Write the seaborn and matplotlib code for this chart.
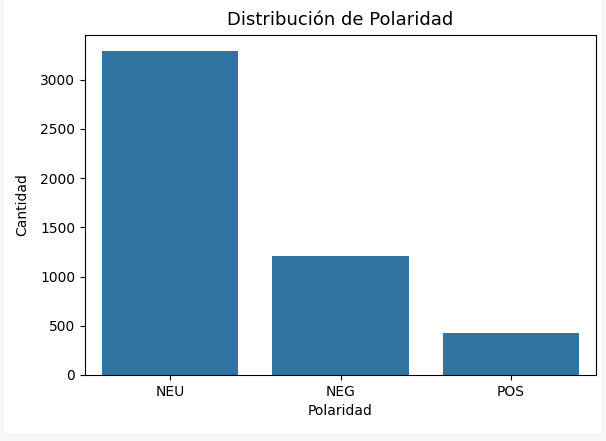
import matplotlib
matplotlib.use("Agg")
import matplotlib.pyplot as plt
import seaborn as sns
import pandas as pd
from matplotlib.patches import Rectangle

categories = ["NEU", "NEG", "POS"]
counts = [3289, 1212, 429]

df = pd.DataFrame({"Polaridad": categories, "Cantidad": counts})

fig = plt.figure(figsize=(6.06, 4.41), dpi=100, facecolor="#f7f7f7")
fig.patches.append(Rectangle((4/606, 8/441), (601-4)/606, 1 - 8/441,
                             transform=fig.transFigure, facecolor="white",
                             edgecolor="none", zorder=-10))
ax = fig.add_axes([85/606, (441-375)/441, (596-85)/606, (375-35)/441])
sns.barplot(data=df, x="Polaridad", y="Cantidad", ax=ax)
ax.set_title("Distribución de Polaridad", fontsize=13, pad=7)
ax.set_xlabel("Polaridad")
ax.set_ylabel("Cantidad", labelpad=8)
fig.savefig("out.png", dpi=100, facecolor=fig.get_facecolor())
